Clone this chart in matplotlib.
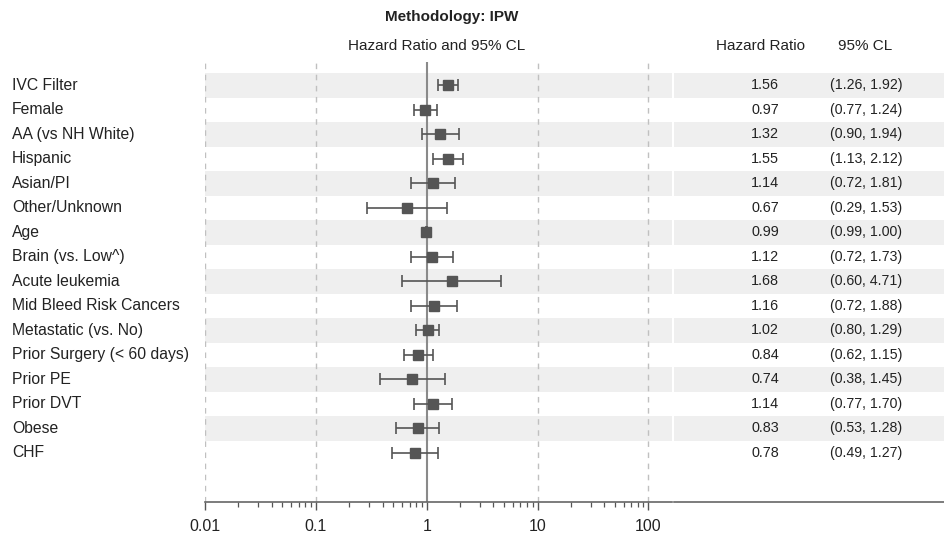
import matplotlib
matplotlib.use("Agg")
import matplotlib.pyplot as plt
import matplotlib.transforms as mtransforms
from matplotlib.ticker import LogLocator, NullFormatter, FixedLocator, FixedFormatter

plt.rcParams['font.family'] = ['Liberation Sans', 'DejaVu Sans']

labels = ["IVC Filter", "Female", "AA (vs NH White)", "Hispanic", "Asian/PI",
          "Other/Unknown", "Age", "Brain (vs. Low^)", "Acute leukemia",
          "Mid Bleed Risk Cancers", "Metastatic (vs. No)", "Prior Surgery (< 60 days)",
          "Prior PE", "Prior DVT", "Obese", "CHF"]
hr = [1.56, 0.97, 1.32, 1.55, 1.14, 0.67, 0.99, 1.12, 1.68, 1.16, 1.02, 0.84, 0.74, 1.14, 0.83, 0.78]
lo = [1.26, 0.77, 0.90, 1.13, 0.72, 0.29, 0.99, 0.72, 0.60, 0.72, 0.80, 0.62, 0.38, 0.77, 0.53, 0.49]
hi = [1.92, 1.24, 1.94, 2.12, 1.81, 1.53, 1.00, 1.73, 4.71, 1.88, 1.29, 1.15, 1.45, 1.70, 1.28, 1.27]
tick_vals = [0.01, 0.1, 1, 10, 100]
tick_labels = ["0.01", "0.1", "1", "10", "100"]

W, H = 944, 534
fig = plt.figure(figsize=(W / 100, H / 100), dpi=100)

ax_top, ax_bot = 62, 502
left, right = 205, 672
ax = fig.add_axes([left / W, 1 - ax_bot / H, (right - left) / W, (ax_bot - ax_top) / H])
axr = fig.add_axes([674 / W, 1 - ax_bot / H, (W - 674) / W, (ax_bot - ax_top) / H])

n = len(labels)
ylim = (n - 1 + 2.0, -0.95)
txtc = "#222222"
gray = "#555555"
band = "#efefef"

for a in (ax, axr):
    a.set_ylim(*ylim)
    for i in range(n):
        if i % 2 == 0:
            a.axhspan(i - 0.5, i + 0.5, color=band, lw=0, zorder=0)
    for s in ("top", "right", "left"):
        a.spines[s].set_visible(False)
    a.spines["bottom"].set_color("#666666")
    a.spines["bottom"].set_linewidth(1.2)
    a.set_yticks([])

ax.set_xscale("log")
ax.set_xlim(0.01, 163)
for v in [0.01, 0.1, 10, 100]:
    ax.axvline(v, color="#c0c0c0", lw=1, ls=(0, (4, 4)), zorder=1)
ax.axvline(1, color="#8a8a8a", lw=1.5, zorder=2)

ys = list(range(n))
xerr = [[h - l for h, l in zip(hr, lo)], [u - h for h, u in zip(hr, hi)]]
ax.errorbar(hr, ys, xerr=xerr, fmt="s", color=gray, ecolor=gray, elinewidth=1.2,
            capsize=4, capthick=1.2, markersize=6.5, zorder=3)

ax.xaxis.set_major_locator(FixedLocator(tick_vals))
ax.xaxis.set_major_formatter(FixedFormatter(tick_labels))
ax.xaxis.set_minor_locator(LogLocator(base=10, subs=range(2, 10)))
ax.xaxis.set_minor_formatter(NullFormatter())
ax.tick_params(axis="x", which="major", length=6, width=1, color="#555555",
               labelsize=11.5, labelcolor=txtc, pad=6)
ax.tick_params(axis="x", which="minor", length=3.5, width=0.9, color="#555555")

axr.set_xlim(0, 1)
axr.set_xticks([])

# row labels
trans = mtransforms.blended_transform_factory(fig.transFigure, ax.transData)
for i, lab in enumerate(labels):
    fig.text(12 / W, i, lab, transform=trans, ha="left", va="center",
             fontsize=11.3, color=txtc)

# right table
tr = mtransforms.blended_transform_factory(fig.transFigure, axr.transData)
for i in range(n):
    fig.text(779 / W, i, f"{hr[i]:.2f}", transform=tr, ha="right", va="center",
             fontsize=10.4, color=txtc)
    fig.text(866 / W, i, f"({lo[i]:.2f}, {hi[i]:.2f})", transform=tr, ha="center",
             va="center", fontsize=10.2, color=txtc)

fig.text(760 / W, 1 - 46 / H, "Hazard Ratio", ha="center", va="center", fontsize=11, color=txtc)
fig.text(865 / W, 1 - 46 / H, "95% CL", ha="center", va="center", fontsize=11, color=txtc)
fig.text(437 / W, 1 - 46 / H, "Hazard Ratio and 95% CL", ha="center", va="center",
         fontsize=11, color=txtc)
fig.text(452 / W, 1 - 17 / H, "Methodology: IPW", ha="center", va="center",
         fontsize=11, fontweight="bold", color=txtc)

fig.savefig("out.png", dpi=100, facecolor="white")
